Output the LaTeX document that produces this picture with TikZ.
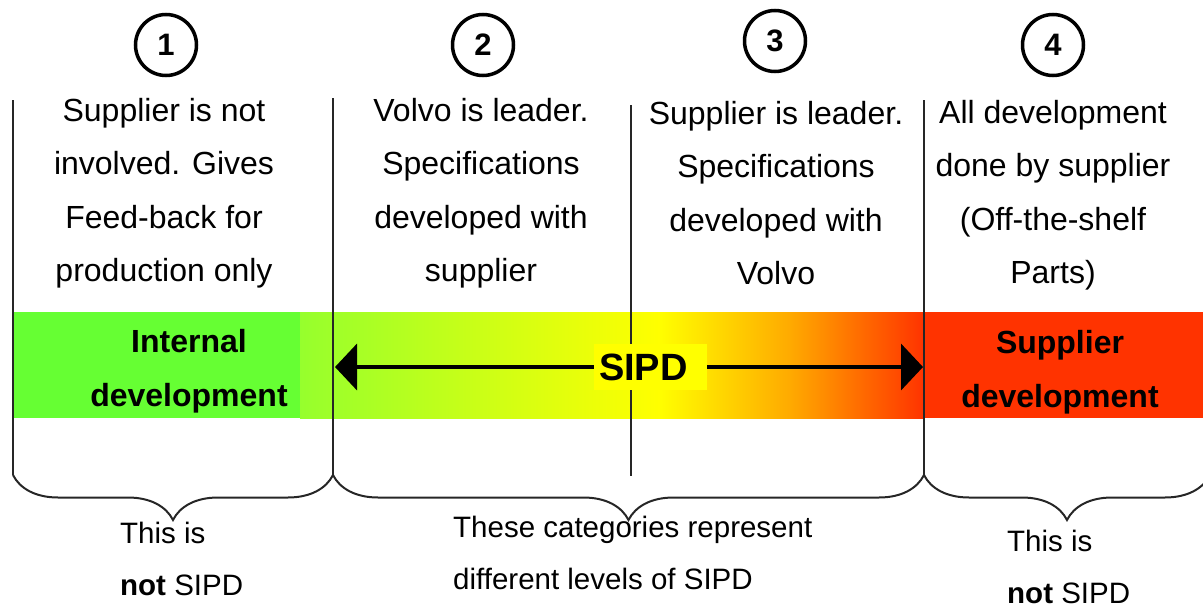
\documentclass[tikz,border=0pt]{standalone}
\usepackage{fontspec}
\setmainfont{Liberation Sans}
\usetikzlibrary{arrows.meta,decorations.pathreplacing}

\definecolor{devgreen}{RGB}{102,255,51}
\definecolor{lightgreen}{RGB}{150,255,45}
\definecolor{sipdyellow}{RGB}{255,255,0}
\definecolor{sipdorange}{RGB}{255,170,0}
\definecolor{devred}{RGB}{255,51,0}

\pgfdeclarehorizontalshading{sipdband}{100bp}{color(0bp)=(lightgreen); color(25bp)=(lightgreen); color(53.75bp)=(sipdyellow); color(64.25bp)=(sipdorange); color(75bp)=(devred); color(100bp)=(devred)}

\tikzset{
  numring/.style={circle,draw,line width=3.5pt,minimum size=61pt,inner sep=0pt,font=\bfseries\fontsize{31}{31}\selectfont},
  desc/.style={align=center,font=\fontsize{32}{53.5}\selectfont},
  bandlabel/.style={align=center,font=\bfseries\fontsize{32}{54}\selectfont},
  sipdbox/.style={fill=sipdyellow,text width=103pt,align=left,inner xsep=5pt,minimum height=46pt,font=\bfseries\fontsize{38}{38}\selectfont},
  sipdarrow/.style={line width=4pt,-{Triangle[length=22pt,width=46pt]}},
  note/.style={align=left,inner sep=0pt,font=\fontsize{29.5}{52}\selectfont},
  divider/.style={line width=2pt,black!85},
  curly/.style={decorate,decoration={brace,amplitude=45pt,mirror},line width=2pt,black!85}
}

\begin{document}
\begin{tikzpicture}[x=1pt,y=-1pt]
    \useasboundingbox (0,0) rectangle (1203,608);
    % band
    \fill[devgreen] (13,312) rectangle (300,418);
    \shade[shading=sipdband] (300,312) rectangle (924,418);
    \fill[devred] (924,312) rectangle (1203,418);
    % dividers
    \coordinate (t1) at (13,100);
    \coordinate (b1) at (13,475);
    \coordinate (t2) at (333,98);
    \coordinate (b2) at (333,475);
    \coordinate (t3) at (631,105);
    \coordinate (b3) at (631,476);
    \coordinate (t4) at (924,100);
    \coordinate (b4) at (924,475);
    \coordinate (b5) at (1210,475);
    \draw[divider] (t1) -- (b1);
    \draw[divider] (t2) -- (b2);
    \draw[divider] (t3) -- (b3);
    \draw[divider] (t4) -- (b4);
    % braces
    \begin{scope}
      \clip (0,0) rectangle (1203,608);
      \draw[curly] (b1) -- (b2);
      \draw[curly] (b2) -- (b4);
      \draw[curly] (b4) -- (b5);
    \end{scope}
    % categories
    \node[numring] (n1) at (166,45) {1};
    \node[numring] (n2) at (483,45) {2};
    \node[numring] (n3) at (775,41) {3};
    \node[numring] (n4) at (1053,45) {4};
    \node[desc] (d1) at (164,193) {Supplier is not\\involved. Gives\\Feed-back for\\production only};
    \node[desc] (d2) at (481,193) {Volvo is leader.\\Specifications\\developed with\\supplier};
    \node[desc] (d3) at (776,193) {Supplier is leader.\\Specifications\\developed with\\Volvo};
    \node[desc] (d4) at (1053,195) {All development\\done by supplier\\(Off-the-shelf\\Parts)};
    % band labels
    \node[bandlabel] (int) at (189,371) {Internal\\development};
    \node[bandlabel] (sup) at (1060,372) {Supplier\\development};
    % SIPD range
    \coordinate (al) at (335,367);
    \coordinate (ar) at (923,367);
    \node[sipdbox] (sipd) at (650.5,367) {SIPD};
    \draw[sipdarrow] (sipd) -- (al);
    \draw[sipdarrow] (sipd) -- (ar);
    % notes
    \node[note,anchor=west] (nt1) at (120,559) {This is\\\textbf{not} SIPD};
    \node[note,anchor=west] (nt2) at (453,553) {These categories represent\\different levels of SIPD};
    \node[note,anchor=west] (nt3) at (1007,567) {This is\\\textbf{not} SIPD};
\end{tikzpicture}
\end{document}
